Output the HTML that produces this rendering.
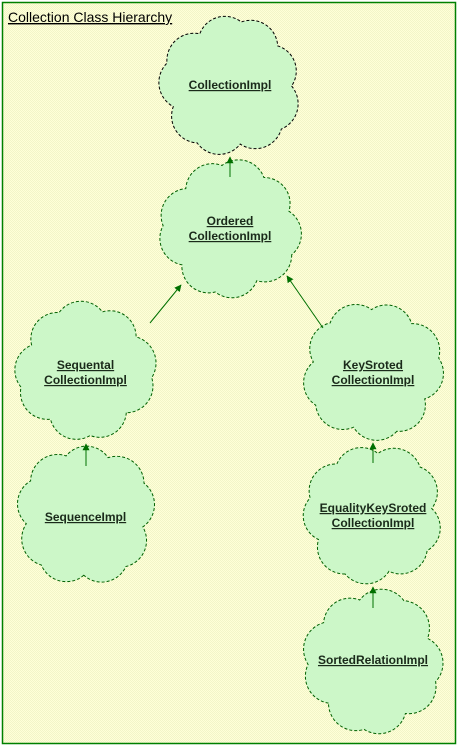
<!DOCTYPE html>
<html><head><meta charset="utf-8">
<style>
html,body{margin:0;padding:0;width:459px;height:747px;overflow:hidden;background:#fff}
svg{display:block}
text{font-family:"Liberation Sans",Arial,sans-serif}
</style></head>
<body>
<svg id="c" width="459" height="747" viewBox="0 0 459 747">
<defs>
<pattern id="chk" width="2" height="2" patternUnits="userSpaceOnUse">
<rect width="2" height="2" fill="#ffffd8"/><rect width="1" height="1" fill="#f2f5c8"/><rect x="1" y="1" width="1" height="1" fill="#f2f5c8"/>
</pattern>
<marker id="ah" viewBox="0 0 10 10" refX="9" refY="5" markerWidth="7" markerHeight="7" orient="auto"><path d="M0,0 L10,5 L0,10 z" fill="#007000"/></marker>
</defs>
<rect x="2.5" y="2.5" width="453" height="741" fill="url(#chk)" stroke="#008000" stroke-width="1.5"/>
<text x="8" y="22" font-size="14" fill="#000" text-decoration="underline">Collection Class Hierarchy</text>
<g id="clouds"></g>
<g id="arrows"></g>
</svg>
<script>
const names=["collection-impl","ordered-collection-impl","sequental-collection-impl","key-sroted-collection-impl","sequence-impl","equality-key-sroted-collection-impl","sorted-relation-impl"];
const labels=[["CollectionImpl"],["Ordered","CollectionImpl"],["Sequental","CollectionImpl"],["KeySroted","CollectionImpl"],["SequenceImpl"],["EqualityKeySroted","CollectionImpl"],["SortedRelationImpl"]];
const boxes=[[158,14,302,158],[158,158,302,300],[14,300,157,442],[301,300,445,442],[14,443,157,587],[301,443,445,585],[301,588,445,735]];
const textY=[89,225,369,369,521,512,664];
const edges=[[[230,177],[230,157]],[[150,323],[181,285]],[[323,328],[287,276]],[[86,466],[86,444]],[[373,463],[373,443]],[[373,608],[373,587]]];
const NS="http://www.w3.org/2000/svg";
const cg=document.getElementById('clouds'),ag=document.getElementById('arrows');
const jit=[0.92,1.0,0.88,0.98,0.9,1.0,0.9,0.97,0.93];
boxes.forEach((b,i)=>{
  const cx=(b[0]+b[2])/2,cy=(b[1]+b[3])/2,rx=(b[2]-b[0])/2-5,ry=(b[3]-b[1])/2-5;
  const n=9,pts=[];
  for(let k=0;k<n;k++){const a=k/n*2*Math.PI+i*0.4;const j=jit[(k+i)%9];pts.push([cx+Math.cos(a)*rx*j,cy+Math.sin(a)*ry*j]);}
  let d="M"+pts[0][0].toFixed(1)+","+pts[0][1].toFixed(1);
  for(let k=1;k<=n;k++){const p=pts[k%n],q=pts[k-1];const ch=Math.hypot(p[0]-q[0],p[1]-q[1]);const r=ch*0.62;d+=" A"+r.toFixed(1)+","+r.toFixed(1)+" 0 0 1 "+p[0].toFixed(1)+","+p[1].toFixed(1);}
  d+="Z";
  const g=document.createElementNS(NS,'g');
  
  
  const p=document.createElementNS(NS,'path');
  p.setAttribute('d',d);p.setAttribute('fill','#ccf7c8');p.setAttribute('stroke',i==0?'#000':'#006000');p.setAttribute('stroke-dasharray','3,2');p.setAttribute('stroke-width','1');
  
  
  g.appendChild(p);
  labels[i].forEach((l,li)=>{const t=document.createElementNS(NS,'text');
    t.setAttribute('x',cx);t.setAttribute('y',textY[i]+li*15);t.setAttribute('text-anchor','middle');t.setAttribute('font-size','12');t.setAttribute('font-weight','bold');t.setAttribute('fill','#1a2a1a');t.setAttribute('text-decoration','underline');
    t.textContent=l;
    
    
    g.appendChild(t);});
  cg.appendChild(g);
});
edges.forEach((e,i)=>{const l=document.createElementNS(NS,'line');
  l.setAttribute('x1',e[0][0]);l.setAttribute('y1',e[0][1]);l.setAttribute('x2',e[1][0]);l.setAttribute('y2',e[1][1]);
  l.setAttribute('stroke','#007000');l.setAttribute('stroke-width','1');l.setAttribute('marker-end','url(#ah)');
  
  
  ag.appendChild(l);});
</script>
</body></html>
